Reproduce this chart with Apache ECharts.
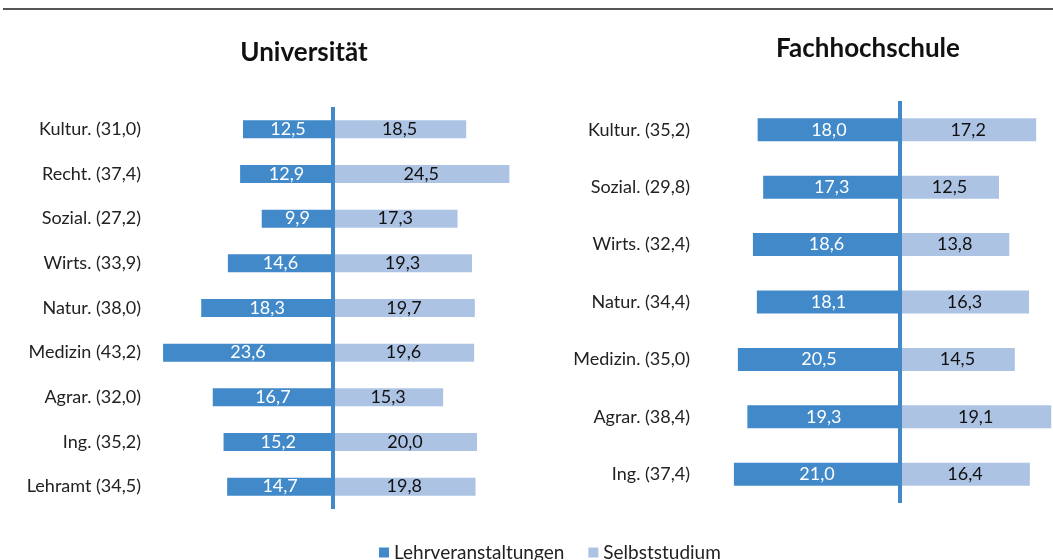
<!DOCTYPE html>
<html>
<head>
<meta charset="utf-8">
<style>
  html, body { margin: 0; padding: 0; background: #fff; }
  #chart { width: 1053px; height: 560px; }
</style>
<script src="https://cdn.jsdelivr.net/npm/echarts@6/dist/echarts.min.js"></script>
</head>
<body>
<div id="chart"></div>
<script>
// Universität
const uniCategories = ["Kultur. (31,0)", "Recht. (37,4)", "Sozial. (27,2)", "Wirts. (33,9)", "Natur. (38,0)",
  "Medizin (43,2)", "Agrar. (32,0)", "Ing. (35,2)", "Lehramt (34,5)"];
const uniLehr = [12.5, 12.9, 9.9, 14.6, 18.3, 23.6, 16.7, 15.2, 14.7];
const uniSelbst = [18.5, 24.5, 17.3, 19.3, 19.7, 19.6, 15.3, 20.0, 19.8];

// Fachhochschule
const fhCategories = ["Kultur. (35,2)", "Sozial. (29,8)", "Wirts. (32,4)", "Natur. (34,4)", "Medizin. (35,0)",
  "Agrar. (38,4)", "Ing. (37,4)"];
const fhLehr = [18.0, 17.3, 18.6, 18.1, 20.5, 19.3, 21.0];
const fhSelbst = [17.2, 12.5, 13.8, 16.3, 14.5, 19.1, 16.4];

const DARK = "#4189c9";
const LIGHT = "#adc3e4";
const FONT = "Lato, 'Open Sans', sans-serif";

const fmt = (p) => Math.abs(p.value).toFixed(1).replace(".", ",");

function panelSeries(idx, lehr, selbst, barWidth) {
  return [
    {
      name: "Lehrveranstaltungen",
      type: "bar",
      stack: "s" + idx,
      xAxisIndex: idx,
      yAxisIndex: idx,
      barWidth: barWidth,
      itemStyle: { color: DARK },
      label: { show: true, position: "inside", color: "#fff", fontSize: 18, fontFamily: FONT, formatter: fmt },
      data: lehr.map((v) => -v),
      markLine: {
        silent: true,
        symbol: "none",
        label: { show: false },
        lineStyle: { color: DARK, width: 4, type: "solid" },
        data: [{ xAxis: 0 }],
        animation: false,
      },
    },
    {
      name: "Selbststudium",
      type: "bar",
      stack: "s" + idx,
      xAxisIndex: idx,
      yAxisIndex: idx,
      barWidth: barWidth,
      itemStyle: { color: LIGHT },
      label: { show: true, position: "inside", color: "#111", fontSize: 18, fontFamily: FONT, formatter: fmt },
      data: selbst,
    },
  ];
}

const chart = echarts.init(document.getElementById("chart"));
chart.setOption({
  animation: false,
  title: [
    { text: "Universität", left: 299, top: 35, textAlign: "center",
      textStyle: { fontSize: 26, fontWeight: "bold", color: "#111", fontFamily: FONT } },
    { text: "Fachhochschule", left: 863, top: 31, textAlign: "center",
      textStyle: { fontSize: 26, fontWeight: "bold", color: "#111", fontFamily: FONT } },
  ],
  legend: {
    top: 538,
    left: 374,
    itemWidth: 10,
    itemHeight: 10,
    itemGap: 24,
    icon: "rect",
    textStyle: { fontSize: 19, color: "#222", fontFamily: FONT },
    data: ["Lehrveranstaltungen", "Selbststudium"],
  },
  graphic: [
    { type: "line", shape: { x1: 3, y1: 9, x2: 1053, y2: 9 }, style: { stroke: "#555", lineWidth: 2 } },
  ],
  grid: [
    { left: 153, top: 107, width: 360, height: 402 },
    { left: 726, top: 101, width: 326, height: 402 },
  ],
  xAxis: [
    { gridIndex: 0, type: "value", min: -25, max: 25, show: false },
    { gridIndex: 1, type: "value", min: -22, max: 19.2, show: false },
  ],
  yAxis: [
    {
      gridIndex: 0, type: "category", inverse: true, data: uniCategories,
      axisLine: { show: false }, axisTick: { show: false }, splitLine: { show: false },
      axisLabel: { margin: 12, fontSize: 18, color: "#222", fontFamily: FONT },
    },
    {
      gridIndex: 1, type: "category", inverse: true, data: fhCategories,
      axisLine: { show: false }, axisTick: { show: false }, splitLine: { show: false },
      axisLabel: { margin: 36, fontSize: 18, color: "#222", fontFamily: FONT },
    },
  ],
  series: [
    ...panelSeries(0, uniLehr, uniSelbst, 18),
    ...panelSeries(1, fhLehr, fhSelbst, 23),
  ],
});
</script>
</body>
</html>
